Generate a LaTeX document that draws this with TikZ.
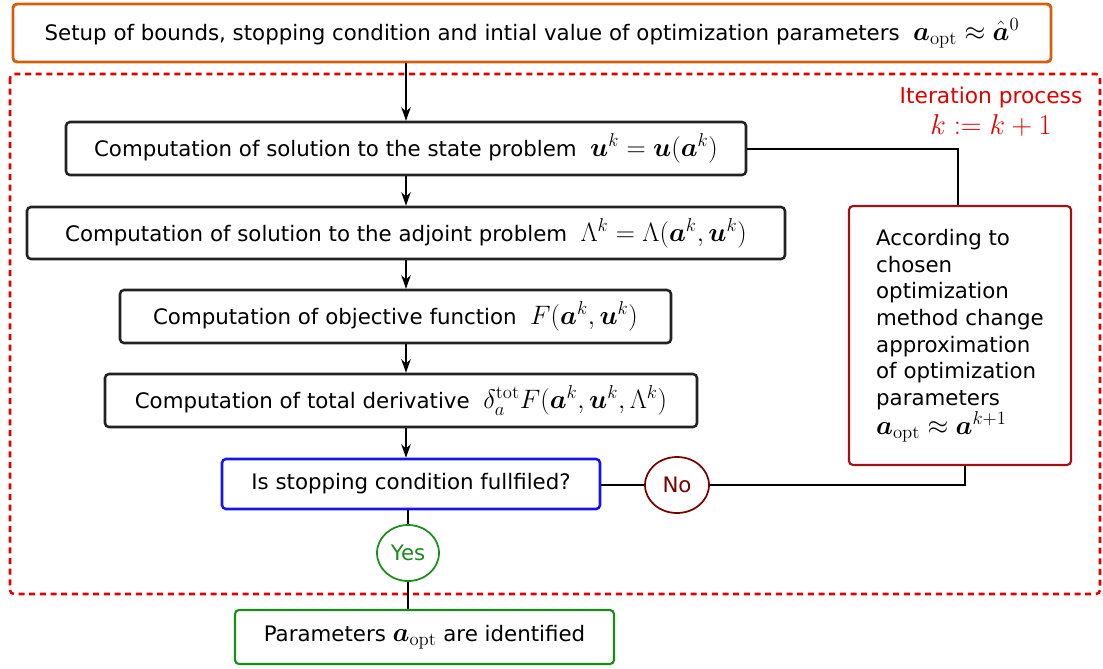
\RequirePackage{fix-cm}
\documentclass[tikz,border=0pt]{standalone}
\usepackage{amsmath,bm}
\usepackage[no-math]{fontspec}
\setmainfont{DejaVu Sans}
\usetikzlibrary{arrows.meta,shapes.geometric}

\definecolor{setupc}{HTML}{D35F0C}
\definecolor{loopc}{HTML}{E00000}
\definecolor{decc}{HTML}{1414F0}
\definecolor{okc}{HTML}{1A8C1A}
\definecolor{updc}{HTML}{A31212}
\definecolor{noc}{HTML}{7A0000}
\definecolor{framec}{HTML}{222222}

% formulas are set larger than the surrounding text
\newcommand\fml[1]{{\fontsize{20}{22}\selectfont$#1$}}

\tikzset{
  wh/.style 2 args={minimum width=#1*0.75pt, minimum height=#2*0.75pt},
  stepbox/.style={draw=framec, line width=1.9pt, rounded corners=3pt, fill=white,
    inner sep=0pt, font=\fontsize{16}{19}\selectfont},
  answer/.style={ellipse, draw, line width=1.3pt, fill=white, inner sep=0pt,
    font=\fontsize{16}{19}\selectfont},
  arr/.style={line width=1.5pt, -{Stealth[length=10pt,width=7pt,inset=3pt]}},
  link/.style={line width=1.5pt},
}

\begin{document}
\begin{tikzpicture}[x=0.75pt,y=-0.75pt]
\useasboundingbox (0,0) rectangle (1103,668);

% iteration frame
\draw[loopc, line width=1.9pt, dash pattern=on 4.5pt off 3.5pt, rounded corners=3pt]
  (10,74) rectangle (1100,594);
\node[text=loopc, font=\fontsize{16.3}{19}\selectfont] (itlabel) at (991,98) {Iteration process};
\node[text=loopc, font=\fontsize{21.5}{24}\selectfont] (itstep) at (991,125) {$k:=k+1$};

% main chain
\node[stepbox, draw=setupc, line width=2.2pt, wh={1038}{58}] (setup) at (532,33)
  {Setup of bounds, stopping condition and intial value of optimization parameters \ \fml{\bm a_{\mathrm{opt}}\approx\hat{\bm a}^0}};
\node[stepbox, wh={680}{53}] (state) at (406,148.5)
  {Computation of solution to the state problem \ \fml{\bm u^k=\bm u(\bm a^k)}};
\node[stepbox, wh={758}{52}] (adj) at (406,233)
  {Computation of solution to the adjoint problem \ \fml{\Lambda^k=\Lambda(\bm a^k,\bm u^k)}};
\node[stepbox, wh={551}{53}] (obj) at (395.5,316.5)
  {Computation of objective function \ \fml{F(\bm a^k,\bm u^k)}};
\node[stepbox, wh={592}{53}] (deriv) at (401,400.5)
  {Computation of total derivative \ \fml{\delta_a^{\mathrm{tot}}F(\bm a^k,\bm u^k,\Lambda^k)}};
\node[stepbox, draw=decc, wh={378}{50}] (dec) at (411,484)
  {Is stopping condition fullfiled?};
\node[stepbox, draw=okc, line width=1.6pt, wh={379}{54}] (final) at (424.5,637)
  {Parameters \fml{\bm a_{\mathrm{opt}}} are identified};
\node[stepbox, draw=updc, line width=1.6pt, wh={222}{259}, align=left,
  font=\fontsize{16}{20}\selectfont] (update) at (960,335.5)
  {According to\\chosen\\optimization\\method change\\approximation\\of optimization\\parameters\\\fml{\bm a_{\mathrm{opt}}\approx\bm a^{k+1}}};

% answers
\node[answer, draw=noc, text=noc, wh={64}{56}] (no) at (677,485) {No};
\node[answer, draw=okc, text=okc, wh={62}{56}] (yes) at (408,553) {Yes};

% connectors
\draw[arr] (state.north |- setup.south) -- (state.north);
\draw[arr] (state.south) -- (adj.north);
\draw[arr] (adj.south) -- (adj.south |- obj.north);
\draw[arr] (adj.south |- obj.south) -- (adj.south |- deriv.north);
\draw[arr] (adj.south |- deriv.south) -- (adj.south |- dec.north);
\draw[link] (state.east) -| ([xshift=-1.5pt]update.north);
\draw[link] (no.west) -- (no.west -| dec.east);
\draw[link] (no.east) -| ([xshift=3.75pt]update.south);
\draw[link] (yes.north |- dec.south) -- (yes.north);
\draw[link] (yes.south) -- (yes.south |- final.north);
\end{tikzpicture}
\end{document}
